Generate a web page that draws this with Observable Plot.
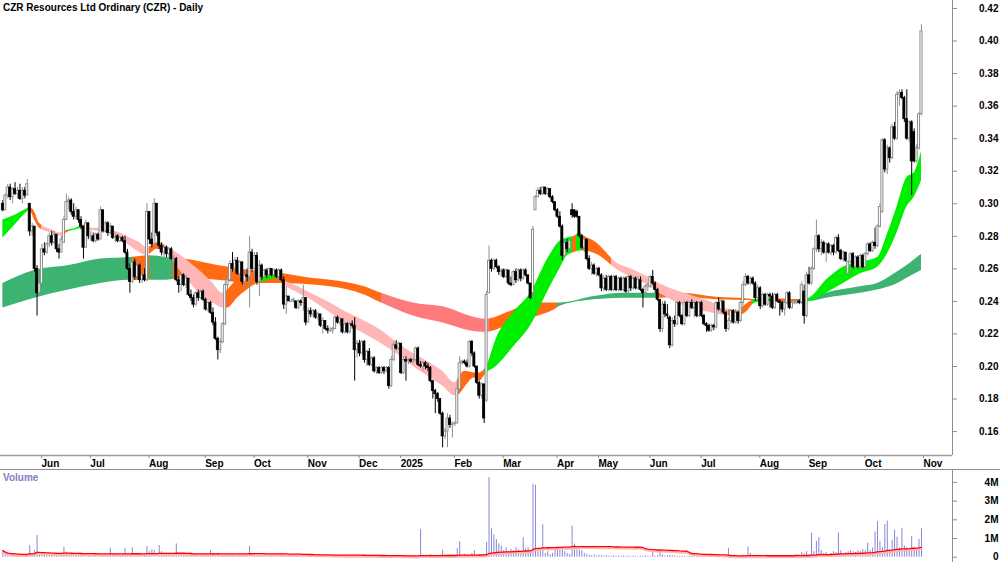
<!DOCTYPE html>
<html><head><meta charset="utf-8">
<script src="https://cdn.jsdelivr.net/npm/d3@7"></script>
<script src="https://cdn.jsdelivr.net/npm/@observablehq/plot@0.6"></script>
<style>
body{margin:0;background:#fff;}
#wrap{position:relative;width:1000px;height:562px;overflow:hidden;background:#fff;}
#price{position:absolute;left:0;top:0;}
#vol{position:absolute;left:0;top:469px;}
#sep{position:absolute;left:0;top:469px;width:1000px;height:0;border-top:1px solid #8c8c8c;}
#title{position:absolute;left:3px;top:2px;font:bold 10px "Liberation Sans",Arial,sans-serif;color:#000;white-space:nowrap;}
#vlabel{position:absolute;left:3px;top:472px;font:bold 10px "Liberation Sans",Arial,sans-serif;color:#8080c0;}
</style></head><body>
<div id="wrap"><div id="price"></div><div id="vol"></div><div id="sep"></div>
<div id="title">CZR Resources Ltd Ordinary (CZR) - Daily</div><div id="vlabel">Volume</div></div>
<script>
// ---- tick labels ----
const priceTicks = [16,18,20,22,24,26,28,30,32,34,36,38,40,42]; // cents
const volTicks = [0,1000,2000,3000,4000]; // thousands of shares
const volTickLabels = ["0","1M","2M","3M","4M"];
const monthIdx = [15,35,59,82,102,124,145,162,184,204,226,243,264,285,309,329,352,376];
const monthLbl = ["Jun","Jul","Aug","Sep","Oct","Nov","Dec","2025","Feb","Mar","Apr","May","Jun","Jul","Aug","Sep","Oct","Nov"];

// ---- daily OHLC (cents), trading-day index 0..376 ----
const open = [
30.0,29.6,30.5,31.0,30.4,30.9,30.6,30.8,30.3,30.8,
30.5,30.0,28.3,28.6,26.0,24.5,25.1,27.2,27.0,27.5,
28.0,27.6,28.1,27.2,27.0,27.6,29.0,30.1,30.2,29.5,
29.2,29.6,29.0,28.6,27.3,28.8,28.0,28.0,27.7,28.1,
27.8,29.6,28.3,28.8,28.2,28.6,27.9,28.0,27.7,27.9,
27.7,27.0,26.0,25.2,26.4,25.5,26.2,25.3,25.6,25.3,
29.5,27.8,27.5,30.0,28.2,27.4,27.0,27.3,26.9,27.2,
26.6,26.6,25.3,25.0,25.6,25.0,25.4,24.4,24.2,23.8,
24.5,24.2,24.6,24.1,23.5,23.9,23.3,22.7,21.7,21.0,
21.5,22.6,25.0,25.3,26.3,26.0,26.5,25.7,26.4,25.2,
25.6,25.5,27.0,26.0,26.8,25.2,26.2,25.5,25.9,25.6,
26.0,25.6,25.9,25.5,25.9,25.3,23.8,24.3,24.0,24.0,
24.0,23.6,24.0,23.9,24.2,22.7,23.4,23.2,23.4,23.0,
23.2,22.5,22.8,22.3,22.2,22.2,22.3,23.0,22.7,22.9,
22.1,22.6,22.1,22.6,22.5,21.0,21.4,20.8,21.5,20.4,
20.9,20.1,20.5,19.7,19.9,19.6,19.9,19.7,19.9,18.8,
20.4,21.3,21.1,21.4,19.6,20.4,20.3,20.4,20.3,20.4,
21.1,20.1,20.0,20.2,20.0,19.9,19.1,18.5,18.3,18.0,
17.1,15.7,16.0,16.8,16.4,16.5,16.5,18.6,20.2,20.3,
20.2,20.0,21.5,20.8,20.0,19.0,18.2,18.9,17.9,24.5,
26.5,26.0,26.5,26.1,25.8,25.9,25.5,25.9,25.1,25.0,
25.8,25.3,25.9,25.4,25.9,25.6,25.1,24.5,29.6,30.4,
30.8,30.6,31.0,30.6,30.9,30.4,30.1,29.6,29.2,28.6,
26.8,27.6,27.2,29.6,29.6,29.5,29.2,28.0,27.3,27.8,
26.6,26.0,26.2,25.7,26.0,25.6,24.8,25.4,24.7,25.5,
24.7,25.5,24.7,25.4,24.7,25.4,24.6,25.5,24.8,25.4,
24.8,25.3,24.7,24.5,24.9,24.9,25.5,25.1,24.7,24.1,
22.3,23.8,23.2,23.0,21.3,22.8,22.6,23.9,23.1,22.6,
23.9,23.1,23.9,23.6,23.9,23.1,23.9,23.1,22.6,22.5,
22.2,22.5,22.4,23.9,23.5,24.0,23.3,22.3,22.8,23.4,
22.7,23.3,22.8,23.9,25.0,25.5,25.1,25.4,25.1,24.2,
24.8,23.7,24.4,23.8,24.4,24.3,23.6,24.4,24.0,23.9,
23.5,23.9,24.5,23.6,23.9,23.9,24.0,23.9,24.6,23.1,
25.6,25.1,26.0,27.2,28.0,27.2,27.6,27.0,27.5,27.0,
27.4,27.0,27.9,27.1,26.6,27.0,25.7,26.4,26.9,26.1,
26.7,26.1,26.8,26.1,26.9,27.5,27.1,27.6,27.4,28.6,
29.5,33.9,32.1,33.4,32.8,34.7,34.0,36.7,36.8,36.5,
35.2,34.0,35.0,34.4,32.6,33.4,35.5];
const high = [
30.2,30.6,31.2,31.2,31.0,31.3,31.0,31.2,31.0,31.0,
31.5,30.0,28.8,28.6,26.2,25.3,27.5,27.6,27.6,28.2,
28.3,28.3,28.1,27.5,28.0,29.2,30.6,30.4,30.3,30.0,
29.8,29.6,29.2,28.6,29.0,28.8,28.3,28.2,28.2,28.2,
29.8,29.6,28.9,28.9,28.8,28.6,28.2,28.1,28.0,28.0,
28.0,27.2,26.3,26.6,26.6,26.5,26.3,25.8,26.0,30.0,
29.5,28.2,30.3,30.0,28.3,27.6,27.4,27.4,27.3,27.3,
26.8,26.7,25.5,25.7,25.7,25.6,25.4,24.7,24.4,24.6,
24.7,24.7,24.7,24.2,24.0,24.0,23.6,23.0,21.8,21.7,
22.7,25.2,25.6,26.5,27.0,26.7,26.7,26.5,26.4,25.8,
26.0,28.0,27.2,27.0,27.0,26.5,26.3,26.0,26.0,26.0,
26.0,26.0,26.0,26.0,26.0,25.5,24.9,24.3,24.1,24.2,
24.0,24.1,24.1,25.0,24.2,23.6,23.6,23.5,23.5,23.3,
23.2,23.0,22.8,22.5,22.4,22.4,23.1,23.1,23.0,22.9,
22.7,22.7,22.7,22.8,23.0,21.6,21.6,21.6,21.6,21.0,
21.1,20.6,20.6,20.0,20.0,20.0,20.0,20.0,20.0,20.6,
21.5,21.6,21.5,21.4,20.6,20.6,20.5,20.5,20.5,21.2,
21.2,20.3,20.3,20.3,20.2,20.0,19.1,18.6,18.4,18.0,
17.2,16.2,17.1,17.0,16.6,16.6,19.0,20.6,20.4,20.4,
20.4,21.6,21.6,20.9,20.0,19.1,19.0,18.9,24.6,27.4,
26.6,26.6,26.6,26.2,26.0,26.0,26.0,25.9,25.5,25.9,
26.0,26.0,26.0,26.0,26.0,25.6,25.1,28.6,30.5,31.0,
31.0,31.0,31.0,31.0,30.9,30.5,30.1,29.7,29.5,28.7,
27.8,27.8,27.8,30.0,29.6,29.6,29.2,28.1,28.0,27.8,
26.8,26.4,26.3,26.1,26.1,25.7,25.6,25.6,25.6,25.6,
25.6,25.6,25.5,25.5,25.5,25.5,25.6,25.6,25.5,25.5,
25.5,25.5,24.8,25.0,25.1,25.6,25.9,25.2,24.8,24.1,
24.0,24.0,23.8,23.1,23.0,23.1,24.0,24.0,23.2,24.0,
24.0,24.0,24.1,24.0,24.0,24.0,24.0,23.2,22.7,22.6,
22.6,22.6,24.0,24.2,24.1,24.0,23.4,23.0,23.5,23.5,
23.5,23.4,24.0,25.2,25.7,25.6,25.5,25.5,25.2,25.0,
24.9,24.5,24.5,24.5,24.5,24.5,24.5,24.5,24.1,24.0,
24.0,24.6,24.6,24.0,24.0,24.1,24.1,25.2,25.0,25.8,
26.1,26.1,27.3,29.0,28.1,27.8,27.7,27.6,27.6,27.5,
27.5,28.0,28.1,27.2,27.1,27.0,26.5,27.0,27.0,26.8,
26.8,26.9,26.9,27.0,27.6,27.6,27.7,28.5,28.7,30.0,
34.0,34.0,33.6,33.5,34.9,35.0,36.9,37.0,37.0,36.6,
37.0,35.1,35.1,34.6,33.6,35.6,41.0];
const low = [
29.5,29.6,30.3,30.2,30.0,30.5,30.3,30.2,30.0,30.3,
30.5,28.0,28.0,25.8,23.1,24.4,25.0,26.8,26.9,27.3,
27.4,27.5,27.0,26.6,27.0,27.6,29.0,29.6,29.3,29.0,
29.0,28.8,28.4,26.6,27.3,27.8,27.7,27.6,27.6,27.7,
27.8,28.2,28.2,28.0,28.1,27.8,27.6,27.6,27.6,27.6,
26.9,25.9,24.5,25.1,25.3,25.3,25.1,25.1,25.2,25.2,
27.5,27.3,27.4,28.0,27.2,26.8,26.7,26.7,26.7,26.5,
26.4,25.2,24.5,24.6,24.9,24.8,24.3,24.0,23.6,23.7,
24.0,24.1,24.0,23.4,23.3,23.2,22.5,21.6,20.4,20.8,
21.4,22.5,24.7,25.2,25.8,25.8,25.6,25.6,25.0,24.9,
25.2,23.6,25.8,25.3,25.0,24.3,25.3,25.3,25.4,25.5,
25.5,25.5,25.4,25.3,25.2,23.5,23.2,24.0,24.0,23.9,
23.5,23.5,23.7,23.4,22.5,22.7,23.0,23.0,22.9,22.8,
22.4,22.0,22.2,22.0,22.1,22.0,22.3,22.6,22.5,22.0,
22.0,22.0,22.0,22.3,19.1,20.5,20.6,20.7,20.2,20.0,
20.0,20.0,19.6,19.5,19.5,19.5,19.5,19.6,18.6,18.7,
20.3,21.0,21.0,19.5,19.5,19.1,20.1,20.2,20.2,20.3,
20.0,19.9,19.7,19.8,19.7,19.0,18.0,17.1,17.8,17.0,
15.0,15.5,15.0,16.2,15.6,16.3,16.5,18.5,20.1,20.1,
19.9,19.9,20.6,19.9,18.9,18.0,18.0,16.5,17.8,24.5,
25.8,25.9,26.0,25.6,25.5,25.4,25.4,25.0,24.9,25.0,
25.1,25.2,25.2,25.3,25.5,25.0,24.1,24.2,29.6,30.4,
30.5,30.5,30.5,30.5,30.3,30.0,29.5,29.1,28.5,26.5,
26.7,27.0,27.1,29.1,29.1,29.1,27.9,27.2,27.0,26.5,
25.9,25.6,25.6,25.5,25.5,24.6,24.6,24.6,24.6,24.6,
24.6,24.6,24.6,24.6,24.6,24.5,24.5,24.6,24.7,24.7,
24.7,24.6,23.6,24.4,24.6,24.8,25.0,24.5,24.0,22.1,
22.1,23.0,22.9,21.1,21.2,22.4,22.5,23.0,22.5,22.5,
23.0,23.0,23.5,23.0,23.0,23.0,23.0,22.5,22.1,22.1,
22.1,22.2,22.3,23.4,23.3,23.2,22.1,22.2,22.6,22.6,
22.6,22.6,22.7,23.5,24.9,25.0,25.0,25.0,24.0,24.0,
23.5,23.6,23.7,23.7,23.6,23.5,23.5,23.9,23.1,23.3,
23.1,23.8,23.5,23.5,23.8,23.8,23.8,23.8,22.6,23.0,
25.0,25.0,25.9,27.0,27.0,26.8,26.9,26.4,26.9,26.8,
26.8,26.9,27.0,26.5,26.4,26.4,25.6,26.3,26.0,26.0,
26.0,26.0,26.0,26.0,26.8,27.0,27.0,27.2,27.3,28.5,
29.4,31.9,31.8,32.5,32.7,33.9,33.9,36.0,36.4,35.0,
33.9,33.8,30.5,32.5,32.5,33.3,35.4];
const close = [
29.6,30.5,31.0,30.4,30.9,30.6,30.8,30.3,30.8,30.5,
31.2,28.3,28.6,26.0,24.5,25.1,27.2,27.0,27.5,28.0,
27.6,28.1,27.2,27.0,27.8,29.0,30.1,30.2,29.5,29.2,
29.6,29.0,28.6,27.3,28.8,28.0,28.0,27.7,28.1,27.8,
29.6,28.3,28.8,28.2,28.6,27.9,28.0,27.7,27.9,27.7,
27.0,26.0,25.2,26.4,25.5,26.2,25.3,25.6,25.3,29.5,
27.8,27.5,30.0,28.2,27.4,27.0,27.3,26.9,27.2,26.6,
26.6,25.3,25.0,25.6,25.0,25.4,24.4,24.2,23.8,24.5,
24.2,24.6,24.1,23.5,23.9,23.3,22.7,21.7,21.0,21.5,
22.6,25.0,25.3,26.3,26.0,26.5,25.7,26.4,25.2,25.6,
25.5,27.0,26.0,26.8,25.2,26.2,25.5,25.9,25.6,26.0,
25.6,25.9,25.5,25.9,25.3,23.8,24.3,24.0,24.0,24.1,
23.6,24.0,23.9,24.2,22.7,23.4,23.2,23.4,23.0,23.2,
22.5,22.8,22.3,22.2,22.2,22.3,23.0,22.7,22.9,22.1,
22.6,22.1,22.6,22.5,21.0,21.4,20.8,21.5,20.4,20.9,
20.1,20.5,19.7,19.9,19.6,19.9,19.7,19.9,18.8,20.4,
21.3,21.1,21.4,19.6,20.4,20.3,20.4,20.3,20.4,21.1,
20.1,20.0,20.2,20.0,19.9,19.1,18.5,18.3,18.0,17.1,
15.7,16.0,16.8,16.4,16.5,16.5,18.6,20.2,20.3,20.2,
20.0,21.5,20.8,20.0,19.0,18.2,18.9,16.8,24.4,26.5,
26.0,26.5,26.1,25.8,25.9,25.5,25.9,25.1,25.0,25.8,
25.3,25.9,25.4,25.9,25.6,25.1,24.2,28.4,30.4,30.8,
30.6,31.0,30.6,30.9,30.4,30.1,29.6,29.2,28.6,26.8,
27.6,27.2,27.7,29.3,29.2,29.2,28.0,27.3,27.8,26.6,
26.0,26.2,25.7,26.0,25.6,24.8,25.4,24.7,25.5,24.7,
25.5,24.7,25.4,24.7,25.4,24.6,25.5,24.8,25.4,24.8,
25.3,24.7,24.5,24.9,25.0,25.5,25.1,24.7,24.1,22.3,
23.8,23.2,23.1,21.3,22.8,22.6,23.9,23.1,22.6,23.9,
23.1,23.9,23.6,23.9,23.1,23.9,23.1,22.6,22.5,22.2,
22.5,22.4,23.9,23.5,24.0,23.3,22.3,22.8,23.4,22.7,
23.3,22.8,23.9,25.0,25.5,25.1,25.4,25.1,24.2,24.8,
23.7,24.4,23.8,24.4,24.3,23.6,24.4,24.0,23.9,23.5,
23.9,24.5,23.6,23.9,23.9,24.0,23.9,25.0,23.1,25.6,
25.1,26.0,27.2,28.0,27.2,27.6,27.0,27.5,27.0,27.4,
27.0,27.9,27.1,26.6,27.0,26.5,26.4,26.9,26.1,26.7,
26.1,26.8,26.1,26.9,27.5,27.1,27.6,27.4,28.6,29.8,
33.9,32.1,33.4,32.8,34.7,34.0,36.7,36.8,36.5,35.2,
34.0,35.0,32.6,32.6,33.4,35.5,40.6];
// ---- daily volume (thousands of shares) ----
const volume = [
350,200,120,150,100,130,90,150,110,80,
120,620,150,360,1160,200,150,120,100,90,
130,110,80,150,120,530,270,120,90,100,
140,80,110,90,150,70,100,120,80,60,
110,90,130,100,480,180,120,100,90,150,
480,120,100,500,150,200,120,100,150,570,
300,400,350,200,620,300,150,120,100,140,
110,710,150,120,90,100,140,80,60,100,
90,110,70,120,100,360,150,120,180,100,
130,150,100,140,120,100,90,110,130,100,
140,570,160,120,200,110,150,160,90,100,
80,70,120,100,180,100,80,60,60,70,
60,80,100,90,150,80,60,90,60,50,
80,60,50,40,70,50,60,90,50,60,
40,50,60,40,120,60,50,60,40,50,
60,40,50,60,40,30,50,40,60,70,
50,40,60,50,40,60,50,80,60,40,
50,1480,60,50,40,150,80,60,50,120,
370,100,80,120,60,90,460,820,100,150,
120,80,200,350,100,120,80,150,800,4250,
1520,1200,950,710,600,350,500,300,420,350,
500,400,300,1040,450,500,300,3890,3850,300,
400,1730,200,300,150,200,400,350,450,400,
300,200,150,1660,700,400,380,350,200,150,
100,80,120,60,100,80,60,90,50,60,
80,50,60,40,70,60,50,40,60,50,
40,50,60,70,60,40,350,60,80,300,
120,60,80,100,80,60,50,40,60,50,
30,50,40,60,50,40,30,50,40,30,
40,30,50,60,40,30,40,480,60,40,
50,40,60,100,80,550,200,60,40,50,
60,40,30,50,40,60,50,40,30,50,
80,60,40,50,100,150,120,250,200,300,
150,1280,300,850,1050,350,200,250,150,200,
300,250,1300,350,200,250,300,350,300,250,
350,300,400,350,750,350,500,1350,1900,850,
500,1750,1930,400,900,1450,1070,500,1550,600,
500,450,1100,500,350,950,1520];

// ---- moving-average ribbons (cents) ----
const ribS_i = [0,5,10,11,13,15,20,24,26,30,33,36,40,44,48,52,56,59,61,63,67,70,74,78,82,86,90,92,96,100,103,107,112,115,121,126,134,141,148,155,162,168,175,180,185,187,189,193,195,198,202,209,216,223,228,231,234,236,238,243,247,250,257,264,270,283,290,297,301,304,308,314,320,326,330,337,344,351,358,362,366,370,373,376];
const sHi = [29.0,29.3,29.7,29.75,29.5,28.8,28.4,28.2,28.35,28.5,28.7,28.5,28.5,28.4,28.2,27.9,27.6,27.3,27.4,27.6,27.4,27.1,26.7,26.2,25.7,25.1,24.5,24.7,25.3,25.4,25.6,25.6,25.6,25.3,24.9,24.5,23.9,23.3,22.8,22.2,21.4,20.8,20.2,19.7,19.0,19.4,19.7,19.6,19.6,20.0,21.7,23.3,24.5,26.6,27.7,27.9,28.0,28.2,28.0,27.6,27.0,26.5,26.0,25.5,25.0,24.3,23.95,23.5,23.4,23.8,24.1,24.15,24.15,24.1,24.2,25.3,26.1,26.4,26.7,28.1,29.8,31.6,31.9,33.2];
const sLo = [27.9,28.7,29.5,29.6,29.0,28.5,28.2,28.0,28.2,28.4,28.5,28.35,28.3,28.2,27.9,27.4,27.0,26.8,27.0,27.2,27.1,26.4,25.6,24.9,24.2,23.9,23.6,23.6,24.2,24.7,25.0,25.2,25.4,25.0,24.5,24.1,23.3,22.6,22.0,21.4,20.7,20.0,19.3,18.8,18.2,18.3,18.7,19.3,19.1,19.6,20.0,21.2,22.5,24.6,26.0,26.8,27.0,27.1,27.1,26.9,26.5,26.1,25.5,25.0,24.4,23.5,23.3,23.1,23.1,23.3,23.9,24.0,23.95,23.95,24.0,24.5,25.1,25.7,26.1,26.9,28.2,29.8,30.4,31.4];
const sSegStart = [0,11,16,25,27,32,35,41,45,60,66,91,106,113,115,186,197,233,235,237,249,297,307,316,327];
const sSegColor = ["G","O","P","O","G","O","P","O","P","O","P","O","G","O","P","O","G","O","G","O","P","O","G","O","G"];
const ribL_i = [0,13,27,40,52,60,67,74,88,101,115,127,134,148,155,168,182,191,198,208,217,226,228,242,254,268,278,292,305,308,318,330,337,351,358,365,371,376];
const lHi = [25.1,25.9,26.2,26.6,26.7,26.8,26.7,26.6,26.2,25.9,25.7,25.4,25.3,24.9,24.5,23.9,23.6,23.1,22.9,23.4,23.9,23.9,23.9,24.3,24.5,24.5,24.5,24.25,24.15,24.1,24.1,24.1,24.5,24.9,25.1,25.7,26.3,26.9];
const lLo = [23.6,24.2,24.7,25.1,25.3,25.3,25.3,25.4,25.3,25.1,25.1,25.0,24.9,24.4,23.9,23.1,22.6,22.2,22.1,22.6,23.0,23.5,23.7,24.1,24.2,24.2,24.25,24.1,24.05,24.05,24.0,24.0,24.2,24.5,24.7,25.0,25.5,25.9];
const lSegStart = [0,53,60,70,155,199,227,268,308];
const lSegColor = ["D","O","D","O","S","O","D","O","D"];

// ---- styling ----
const COL = {G:"#00ee00", O:"#ff6a13", P:"#ffb6b6", D:"#3cb371", S:"#ff7b7b"};
const FONT = '"Liberation Sans", Arial, Helvetica, sans-serif';
const W = 1000, XDOM = [-0.96, 388.7];
const UPC = "#8f8f8f";

const rows = close.map((c, i) => ({i, o: open[i], h: high[i], l: low[i], c, v: volume[i]}));
const up = rows.filter(d => d.c > d.o), dn = rows.filter(d => d.c < d.o), dj = rows.filter(d => d.c === d.o);
const sRows = ribS_i.map((i, k) => ({i, hi: sHi[k], lo: sLo[k]}));
const lRows = ribL_i.map((i, k) => ({i, hi: lHi[k], lo: lLo[k]}));
const monthMap = new Map(monthIdx.map((v, k) => [v, monthLbl[k]]));
const volMap = new Map(volTicks.map((v, k) => [v, volTickLabels[k]]));
const style = {fontFamily: FONT, fontSize: "10px", fontWeight: "bold", background: "white", overflow: "visible", color: "#000"};

const price = Plot.plot({
  width: W, height: 470, marginTop: 0, marginBottom: 15, marginLeft: 0, marginRight: 48,
  style,
  x: {domain: XDOM, axis: null, label: null},
  y: {domain: [14.53, 42.49], axis: null, label: null},
  marks: [
    Plot.areaY(lRows, {x: "i", y1: "lo", y2: "hi", fill: "url(#gradL)", curve: "monotone-x"}),
    Plot.areaY(sRows, {x: "i", y1: "lo", y2: "hi", fill: "url(#gradS)", curve: "monotone-x"}),
    Plot.ruleX(up.concat(dj), {x: "i", y1: "l", y2: "h", stroke: UPC, strokeWidth: 1}),
    Plot.ruleX(dn, {x: "i", y1: "l", y2: "h", stroke: "#000", strokeWidth: 1}),
    Plot.rect(up, {x1: d => d.i - 0.42, x2: d => d.i + 0.42, y1: "o", y2: "c", fill: "#fff", stroke: UPC, strokeWidth: 1}),
    Plot.rect(dn, {x1: d => d.i - 0.42, x2: d => d.i + 0.42, y1: "c", y2: "o", fill: "#000", stroke: "#000", strokeWidth: 0.8}),
    Plot.ruleY(dj, {y: "c", x1: d => d.i - 0.6, x2: d => d.i + 0.6, stroke: UPC}),
    Plot.ruleY([14.53], {stroke: "#9a9a9a", strokeWidth: 1.5}),
    Plot.ruleX([XDOM[1]], {stroke: "#8c8c8c"}),
    Plot.axisY(priceTicks, {anchor: "right", label: null, tickSize: 4, tickPadding: 42, textAnchor: "end", tickFormat: d => (d / 100).toFixed(2), stroke: "#8c8c8c", fill: "#000"}),
    Plot.axisX(monthIdx, {anchor: "bottom", label: null, tickSize: 3, tickPadding: 1, textAnchor: "start", dx: 2, tickFormat: d => monthMap.get(d), stroke: "#8c8c8c", fill: "#000"})
  ]
});

function addGrad(svg, xs, id, starts, colors) {
  const defs = d3.select(svg).insert("defs", ":first-child");
  const g = defs.append("linearGradient").attr("id", id).attr("gradientUnits", "userSpaceOnUse")
    .attr("x1", 0).attr("x2", W).attr("y1", 0).attr("y2", 0);
  starts.forEach((s, k) => {
    const a = k === 0 ? 0 : xs.apply(s) / W;
    const b = k === starts.length - 1 ? 1 : xs.apply(starts[k + 1]) / W;
    g.append("stop").attr("offset", a).attr("stop-color", COL[colors[k]]);
    g.append("stop").attr("offset", b).attr("stop-color", COL[colors[k]]);
  });
}
const xs = price.scale("x");
addGrad(price, xs, "gradS", sSegStart, sSegColor);
addGrad(price, xs, "gradL", lSegStart, lSegColor);
document.getElementById("price").appendChild(price);

const win = {k: 64, anchor: "end", reduce: "mean"};
const vol = Plot.plot({
  width: W, height: 93, marginTop: 0, marginBottom: 0, marginLeft: 0, marginRight: 48,
  style,
  x: {domain: XDOM, axis: null, label: null},
  y: {domain: [-283, 4690], axis: null, label: null},
  marks: [
    Plot.ruleX(rows, {x: "i", y1: 0, y2: "v", stroke: "#8686d8", strokeWidth: 1}),
    Plot.lineY(rows, Plot.windowY(win, {x: "i", y: "v", stroke: "#ffb4b4", strokeWidth: 2, dy: 1.5})),
    Plot.lineY(rows, Plot.windowY(win, {x: "i", y: "v", stroke: "#ff0000", strokeWidth: 1.3})),
    Plot.ruleX([XDOM[1]], {stroke: "#8c8c8c"}),
    Plot.axisY(volTicks, {anchor: "right", label: null, tickSize: 4, tickPadding: 42, textAnchor: "end", tickFormat: d => volMap.get(d), stroke: "#8c8c8c", fill: "#000"})
  ]
});
document.getElementById("vol").appendChild(vol);
</script>
</body></html>
